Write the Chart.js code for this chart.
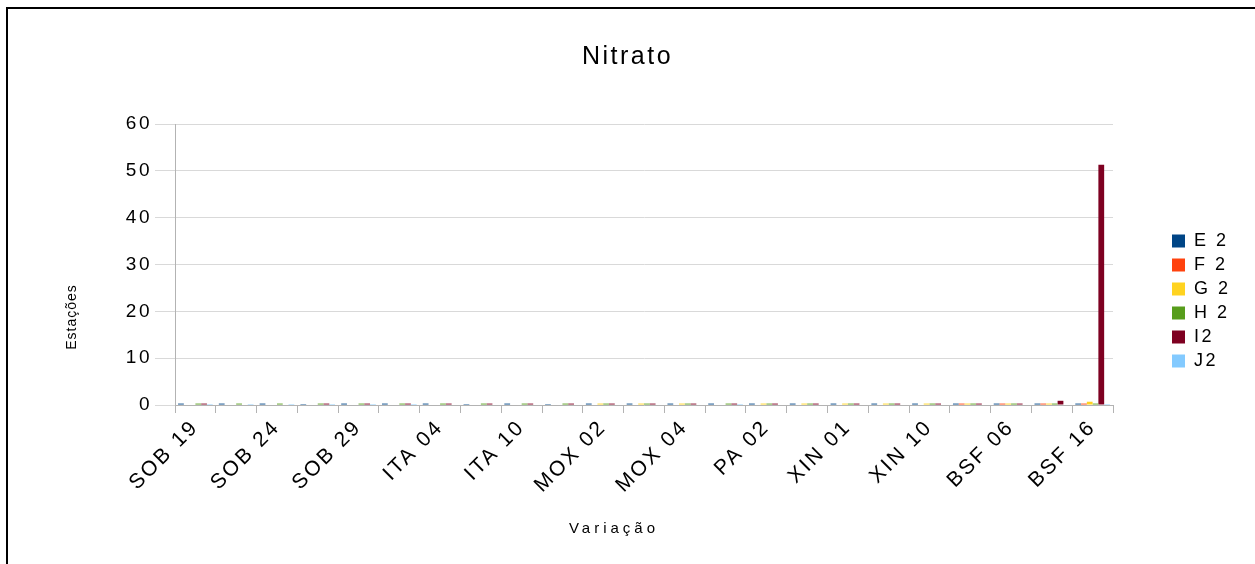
<!DOCTYPE html>
<html>
<head>
<meta charset="utf-8">
<script src="https://cdn.jsdelivr.net/npm/chart.js@4.4.1/dist/chart.umd.min.js"></script>
<style>
  html, body { margin: 0; padding: 0; background: #fff; }
  #frame { position: absolute; left: 6px; top: 7px; width: 1300px; height: 600px; border: 2px solid #000; }
  #wrap { position: absolute; left: 0; top: 0; width: 1255px; height: 564px; }
</style>
</head>
<body>
<div id="frame"></div>
<div id="wrap"><canvas id="chart"></canvas></div>
<script>
// estações (só uma a cada duas aparece no eixo)
const categories = [
  'SOB 19', '', 'SOB 24', '', 'SOB 29', '', 'ITA 04', '', 'ITA 10', '', 'MOX 02', '',
  'MOX 04', '', 'PA 02', '', 'XIN 01', '', 'XIN 10', '', 'BSF 06', '', 'BSF 16'
];

const seriesNames = ['E 2', 'F 2', 'G 2', 'H 2', 'I2', 'J2'];
const seriesColors = ['#004586', '#ff420e', '#ffd320', '#579d1c', '#7e0021', '#83caff'];

const e2 = [0.3, 0.3, 0.3, 0.2, 0.3, 0.3, 0.3, 0.2, 0.3, 0.2, 0.3, 0.3, 0.3, 0.3, 0.3, 0.3, 0.3, 0.3, 0.3, 0.3, 0.3, 0.3, 0.3];
const f2 = [0, 0, 0, 0, 0, 0, 0, 0, 0, 0, 0, 0, 0, 0, 0, 0, 0, 0, 0, 0.3, 0.3, 0.3, 0.3];
const g2 = [0, 0, 0, 0, 0, 0, 0, 0, 0, 0, 0.3, 0.3, 0.3, 0, 0.3, 0.3, 0.3, 0.3, 0.3, 0.3, 0.3, 0.3, 0.7];
const h2 = [0.3, 0.3, 0.3, 0.3, 0.3, 0.3, 0.3, 0.3, 0.3, 0.3, 0.3, 0.3, 0.3, 0.3, 0.3, 0.3, 0.3, 0.3, 0.3, 0.3, 0.3, 0.3, 0.3];
const i2 = [0.3, 0, 0, 0.3, 0.3, 0.3, 0.3, 0.3, 0.3, 0.3, 0.3, 0.3, 0.3, 0.3, 0.3, 0.3, 0.3, 0.3, 0.3, 0.3, 0.3, 0.9, 51.3];
const j2 = [0.2, 0.2, 0.2, 0.2, 0.2, 0.2, 0, 0, 0, 0, 0, 0, 0, 0.2, 0, 0, 0, 0, 0, 0, 0, 0, 0.2];

const yTicks = [0, 10, 20, 30, 40, 50, 60];

const chartTitle = 'Nitrato';
const xTitle = 'Variação';
const yTitle = 'Estações';

const allSeries = [e2, f2, g2, h2, i2, j2];
const FONT = 'Liberation Sans';

// espaçamento entre letras como no original
function setSpacing(chart) {
  chart.ctx.letterSpacing = '2.5px';
}

const layoutFix = {
  id: 'layoutFix',
  beforeInit(chart) {
    const lg = chart.legend;
    const fit = lg.fit;
    lg.fit = function () {
      fit.call(this);
      if (!this.isHorizontal()) this.width = 142;
    };
  },
  beforeUpdate: setSpacing,
  beforeDraw: setSpacing,
  afterLayout(chart) {
    const lg = chart.legend;
    lg.left += 53; lg.right += 53;
    lg.top += 19; lg.bottom += 19;
  },
  // títulos dos eixos, desenhados fora do centro como no original
  afterDraw(chart) {
    const ctx = chart.ctx;
    ctx.save();
    ctx.fillStyle = '#000';
    ctx.textAlign = 'center';
    ctx.textBaseline = 'middle';
    ctx.letterSpacing = '4px';
    ctx.font = '15px "' + FONT + '"';
    ctx.fillText(xTitle, 614, 529);
    ctx.translate(72, 317);
    ctx.rotate(-Math.PI / 2);
    ctx.letterSpacing = '1px';
    ctx.font = '14px "' + FONT + '"';
    ctx.fillText(yTitle, 0, 0);
    ctx.restore();
  }
};

new Chart(document.getElementById('chart'), {
  type: 'bar',
  data: {
    labels: categories,
    datasets: allSeries.map((vals, k) => ({
      label: seriesNames[k],
      data: vals,
      backgroundColor: seriesColors[k],
      borderWidth: 0,
      categoryPercentage: 0.85,
      barPercentage: 1.0
    }))
  },
  options: {
    responsive: true,
    maintainAspectRatio: false,
    animation: false,
    layout: { padding: 0 },
    plugins: {
      tooltip: { enabled: false },
      title: {
        display: true,
        text: chartTitle,
        color: '#000',
        font: { family: FONT, size: 25, weight: 'normal' },
        padding: { top: 42, bottom: 52 }
      },
      legend: {
        position: 'right',
        labels: {
          color: '#000',
          font: { family: FONT, size: 18 },
          boxWidth: 13,
          boxHeight: 13,
          padding: 6
        }
      }
    },
    scales: {
      x: {
        offset: true,
        grid: { display: true, drawOnChartArea: false, drawTicks: true, tickLength: 8, color: '#b3b3b3', offset: true },
        border: { color: '#b3b3b3' },
        ticks: {
          autoSkip: false,
          maxRotation: 45,
          minRotation: 45,
          color: '#000',
          font: { family: FONT, size: 21 },
          padding: 2
        },
        afterFit(scale) { scale.height = 159; }
      },
      y: {
        min: 0,
        max: 60,
        afterBuildTicks(scale) { scale.ticks = yTicks.map(v => ({ value: v })); },
        grid: { color: '#d9d9d9', tickLength: 20 },
        border: { color: '#b3b3b3' },
        ticks: {
          color: '#000',
          font: { family: FONT, size: 19 },
          padding: 3
        },
        afterFit(scale) { scale.width = 175; }
      }
    }
  },
  plugins: [layoutFix]
});
</script>
</body>
</html>
